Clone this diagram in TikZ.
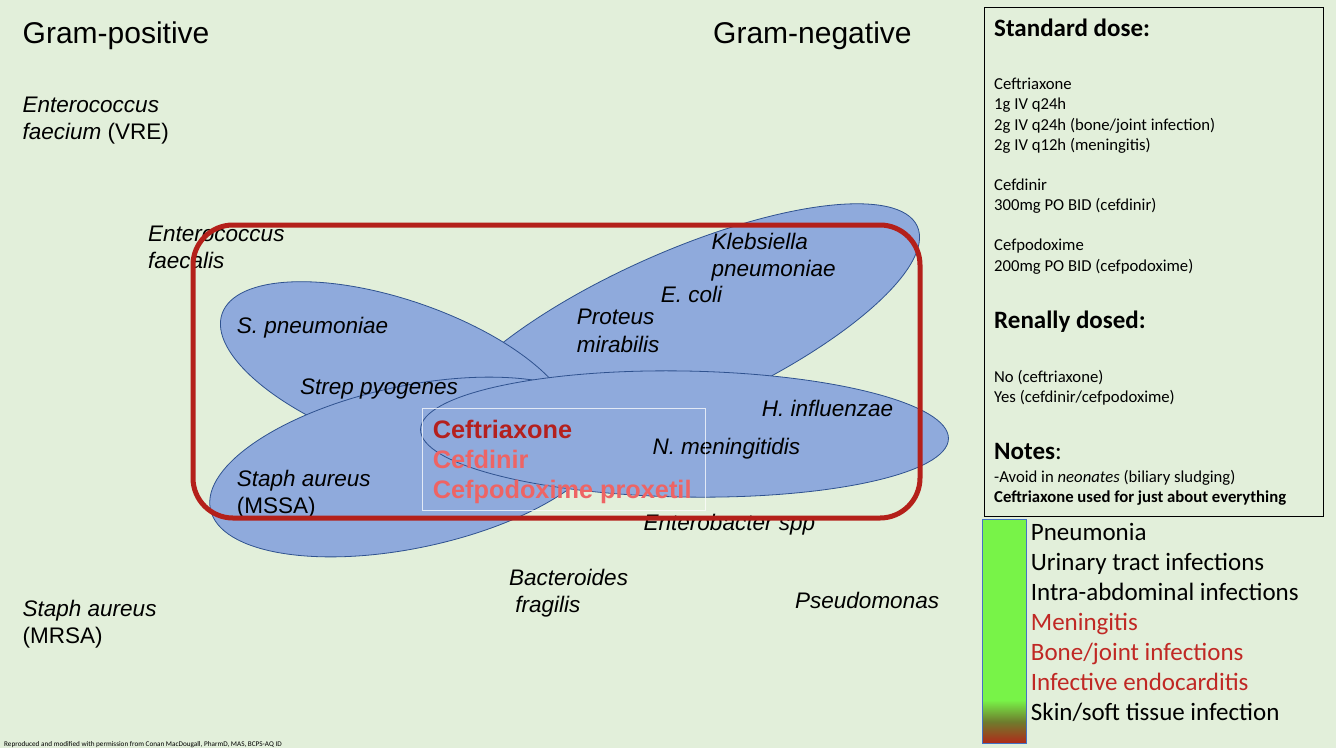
\documentclass[tikz,border=0pt]{standalone}
\usepackage{fontspec}
\setmainfont{Liberation Sans}
\newfontfamily\calibri{Carlito}
\definecolor{bg}{RGB}{226,239,218}
\definecolor{blobfill}{RGB}{143,170,220}
\definecolor{blobline}{RGB}{47,82,143}
\definecolor{redbox}{RGB}{180,32,26}
\definecolor{drugdark}{RGB}{180,32,30}
\definecolor{druglight}{RGB}{238,100,100}
\definecolor{legred}{RGB}{192,40,36}
\definecolor{leggreen}{RGB}{120,243,72}
\definecolor{legmid}{RGB}{110,125,45}
\definecolor{legbottom}{RGB}{175,42,25}
\definecolor{legborder}{RGB}{68,114,196}
\begin{document}
\begin{tikzpicture}[x=1pt,y=-1pt,
  blob/.style={fill=blobfill, draw=blobline, line width=0.8pt},
  lab/.style={anchor=base west, inner sep=0pt, font=\fontsize{22.5}{27}\selectfont\itshape},
  gram/.style={anchor=base west, inner sep=0pt, font=\fontsize{30}{36}\selectfont},
  drug/.style={anchor=base west, inner sep=0pt, font=\fontsize{25.3}{30}\selectfont\bfseries},
  pan/.style={anchor=base west, inner sep=0pt, font=\calibri\fontsize{16.7}{20}\selectfont},
  panhead/.style={anchor=base west, inner sep=0pt, font=\calibri\fontsize{25}{30}\selectfont\bfseries},
  leg/.style={anchor=base west, inner sep=0pt, font=\calibri\fontsize{25}{30}\selectfont},
  redframe/.style={draw=redbox, line width=5pt, rounded corners=40pt},
]
\useasboundingbox (0,0) rectangle (1336,748);
\fill[bg] (0,0) rectangle (1336,748);

% ellipses (bottom to top)
\path[blob, shift={(678,333)}, rotate=24] (0,0) ellipse [x radius=262pt, y radius=80pt];
\path[blob, shift={(397,374)}, rotate=-19] (0,0) ellipse [x radius=185pt, y radius=74pt];
\path[blob, shift={(410,467)}, rotate=12] (0,0) ellipse [x radius=204pt, y radius=81pt];
\path[blob, shift={(684.5,434)}, rotate=-1] (0,0) ellipse [x radius=264pt, y radius=63pt];

% titles
\node[gram] (gpos) at (22.5,43) {Gram-positive};
\node[gram] (gneg) at (713,43) {Gram-negative};

% species labels
\node[lab] (efm1) at (22.5,112) {Enterococcus};
\node[lab] (efm2) at (22.5,139) {faecium \textup{(VRE)}};
\node[lab] (efs1) at (148,241) {Enterococcus};
\node[lab] (efs2) at (148,268) {faecalis};
\node[lab] (spn) at (236.7,333) {S. pneumoniae};
\node[lab] (spy) at (300,394) {Strep pyogenes};
\node[lab] (mssa1) at (236.7,486) {Staph aureus};
\node[lab] (mssa2) at (236.7,513) {\textup{(MSSA)}};
\node[lab] (kp1) at (711.5,249) {Klebsiella};
\node[lab] (kp2) at (711.5,276) {pneumoniae};
\node[lab] (eco) at (660.7,302) {E. coli};
\node[lab] (pm1) at (576.7,324) {Proteus};
\node[lab] (pm2) at (576.7,352) {mirabilis};
\node[lab] (hi) at (761.7,416) {H. influenzae};
\node[lab] (nm) at (652.3,454.5) {N. meningitidis};
\node[lab] (ent) at (643.5,530.5) {Enterobacter spp};
\node[lab] (bf1) at (509,585) {Bacteroides};
\node[lab] (bf2) at (509,612) {\ fragilis};
\node[lab] (psa) at (795,608) {Pseudomonas};
\node[lab] (mrsa1) at (22.5,616) {Staph aureus};
\node[lab] (mrsa2) at (22.5,643) {\textup{(MRSA)}};

% drug box
\draw[white, opacity=0.75, line width=0.8pt] (422,408.3) rectangle (705,510.5);
\node[drug, text=drugdark] (d1) at (432.7,438.5) {Ceftriaxone};
\node[drug, text=druglight] (d2) at (432.7,468.5) {Cefdinir};
\node[drug, text=druglight] (d3) at (432.7,498.5) {Cefpodoxime proxetil};

% red frame
\draw[redframe] (193,225) rectangle (920,518);

% right panel
\draw[black, line width=0.8pt] (984,7.5) rectangle (1323.5,516);
\node[panhead] (h1) at (994,36) {Standard dose:};
\node[pan] (p1) at (994,89.5) {Ceftriaxone};
\node[pan] (p2) at (994,109.8) {1g IV q24h};
\node[pan] (p3) at (994,130.1) {2g IV q24h (bone/joint infection)};
\node[pan] (p4) at (994,150.4) {2g IV q12h (meningitis)};
\node[pan] (p5) at (994,190.5) {Cefdinir};
\node[pan] (p6) at (994,210.8) {300mg PO BID (cefdinir)};
\node[pan] (p7) at (994,250.8) {Cefpodoxime};
\node[pan] (p8) at (994,271.1) {200mg PO BID (cefpodoxime)};
\node[panhead] (h2) at (994,328.3) {Renally dosed:};
\node[pan] (p9) at (994,382.3) {No (ceftriaxone)};
\node[pan] (p10) at (994,402.5) {Yes (cefdinir/cefpodoxime)};
\node[panhead] (h3) at (994,459.3) {Notes\mdseries:};
\node[pan] (p11) at (994,482) {-Avoid in \textit{neonates} (biliary sludging)};
\node[pan, font=\calibri\fontsize{16.7}{20}\selectfont\bfseries] (p12) at (994,502.3) {Ceftriaxone used for just about everything};

% legend bar
\fill[leggreen] (982,519) rectangle (1026,701);
\shade[top color=leggreen, bottom color=legbottom, middle color=legmid] (982,700) rectangle (1026,743);
\draw[legborder, line width=0.8pt] (982,519) rectangle (1026,743);
\node[leg] (l1) at (1030.7,540) {Pneumonia};
\node[leg] (l2) at (1030.7,570.1) {Urinary tract infections};
\node[leg] (l3) at (1030.7,600.2) {Intra-abdominal infections};
\node[leg, text=legred] (l4) at (1030.7,630.3) {Meningitis};
\node[leg, text=legred] (l5) at (1030.7,660.5) {Bone/joint infections};
\node[leg, text=legred] (l6) at (1030.7,690.6) {Infective endocarditis};
\node[leg] (l7) at (1030.7,720.7) {Skin/soft tissue infection};

% footer
\node[anchor=base west, inner sep=0pt, font=\calibri\fontsize{7.2}{8}\selectfont] (foot) at (4,746.3) {Reproduced and modified with permission from Conan MacDougall, PharmD, MAS, BCPS-AQ ID};
\end{tikzpicture}
\end{document}
